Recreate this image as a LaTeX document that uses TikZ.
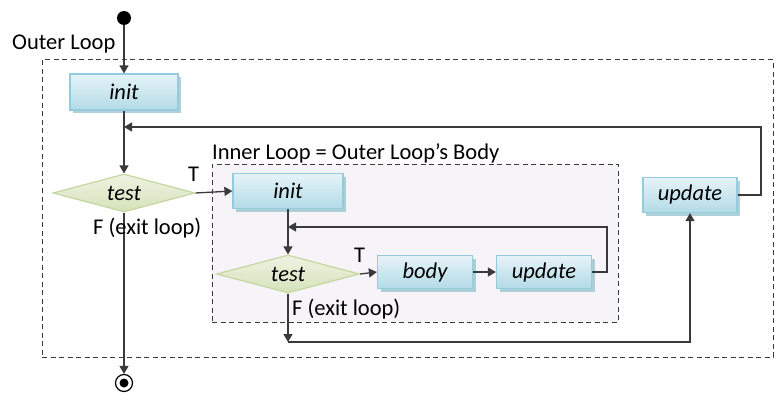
\documentclass[tikz,border=0pt]{standalone}
\usepackage{fontspec}
\setmainfont{Carlito}
\usetikzlibrary{arrows.meta,shapes.geometric,shadows}
\definecolor{boxtop}{HTML}{E6F3F8}
\definecolor{boxbot}{HTML}{B3DBE7}
\definecolor{boxline}{HTML}{93CDDD}
\definecolor{dtop}{HTML}{EEF3E2}
\definecolor{dbot}{HTML}{D5E2BA}
\definecolor{dline}{HTML}{C4D79E}
\definecolor{ink}{HTML}{3A3A3A}
\definecolor{innerfill}{HTML}{F6F4F8}
\tikzset{
  every node/.style={font=\fontsize{22.5}{27}\selectfont},
  procbox/.style={rectangle, draw=boxline, line width=1.2pt, top color=boxtop, bottom color=boxbot,
    inner sep=0pt, font=\fontsize{22.5}{27}\selectfont\itshape,
    drop shadow={shadow xshift=3pt, shadow yshift=-3pt, fill=boxline!80!gray, opacity=0.7}},
  testbox/.style={diamond, aspect=3.7, draw=dline, line width=1.2pt, top color=dtop, bottom color=dbot,
    inner sep=0pt, font=\fontsize{22.5}{27}\selectfont\itshape},
  dashbox/.style={rectangle, draw=ink, dash pattern=on 5pt off 3.5pt, line width=1pt, inner sep=0pt},
  arr/.style={draw=ink, line width=1.3pt, -{Triangle[length=8pt,width=9pt]}},
  lbl/.style={text=black, inner sep=0pt, anchor=west}
}
\begin{document}
\begin{tikzpicture}[x=1pt,y=-1pt]
\useasboundingbox (0,0) rectangle (777,396);
% containers
\node[dashbox, minimum width=731, minimum height=297] (outer) at (407.5,208.5) {};
\node[dashbox, fill=innerfill, minimum width=406, minimum height=158] (inner) at (415,243) {};
\node[lbl] (outerlbl) at (12,44) {Outer Loop};
\node[lbl] (innerlbl) at (212,153) {Inner Loop = Outer Loop’s Body};
% start / end
\node[circle, fill=black, minimum size=14pt, inner sep=0pt] (start) at (124,18) {};
\node[circle, draw=black, line width=1.2pt, minimum size=17pt, inner sep=0pt] (end) at (124,383) {};
\node[circle, fill=black, minimum size=9pt, inner sep=0pt] (endc) at (end) {};
% outer nodes
\node[procbox, minimum width=108, minimum height=36] (oinit) at (124,92) {init};
\node[testbox, minimum width=142, minimum height=38] (otest) at (124,193) {test};
\node[procbox, minimum width=94, minimum height=35] (oupd) at (690,195) {update};
% inner nodes
\node[procbox, minimum width=110, minimum height=35] (iinit) at (288,191) {init};
\node[testbox, minimum width=143, minimum height=38] (itest) at (288,274) {test};
\node[procbox, minimum width=95, minimum height=33] (body) at (425,272) {body};
\node[procbox, minimum width=95, minimum height=33] (iupd) at (544,272) {update};
% helper coordinates
\coordinate (ofb) at (761,127);
\coordinate (ifb) at (607,227);
\coordinate (j) at (288,342);
% outer connectors
\draw[arr] (start) -- (oinit.north);
\draw[arr] (oinit.south) -- (otest.north);
\draw[arr] (oupd.east) -| (ofb) -- (ofb -| oinit.south);
\draw[arr] (otest.east) -- (iinit.west);
\node[lbl] (ot) at (188,174) {T};
\draw[arr] (otest.south) -- (end.north);
\node[lbl] (of) at (93,228) {F (exit loop)};
% inner connectors
\draw[arr] (iinit.south) -- (itest.north);
\draw[arr] (itest.east) -- (body.west);
\node[lbl] (it) at (354,255) {T};
\draw[arr] (body.east) -- (iupd.west);
\draw[arr] (iupd.east) -| (ifb) -- (ifb -| iinit.south);
\draw[arr] (itest.south) -- (j);
\node[lbl] (iff) at (292,309) {F (exit loop)};
\draw[arr] (j) -| (oupd.south);
\end{tikzpicture}
\end{document}
